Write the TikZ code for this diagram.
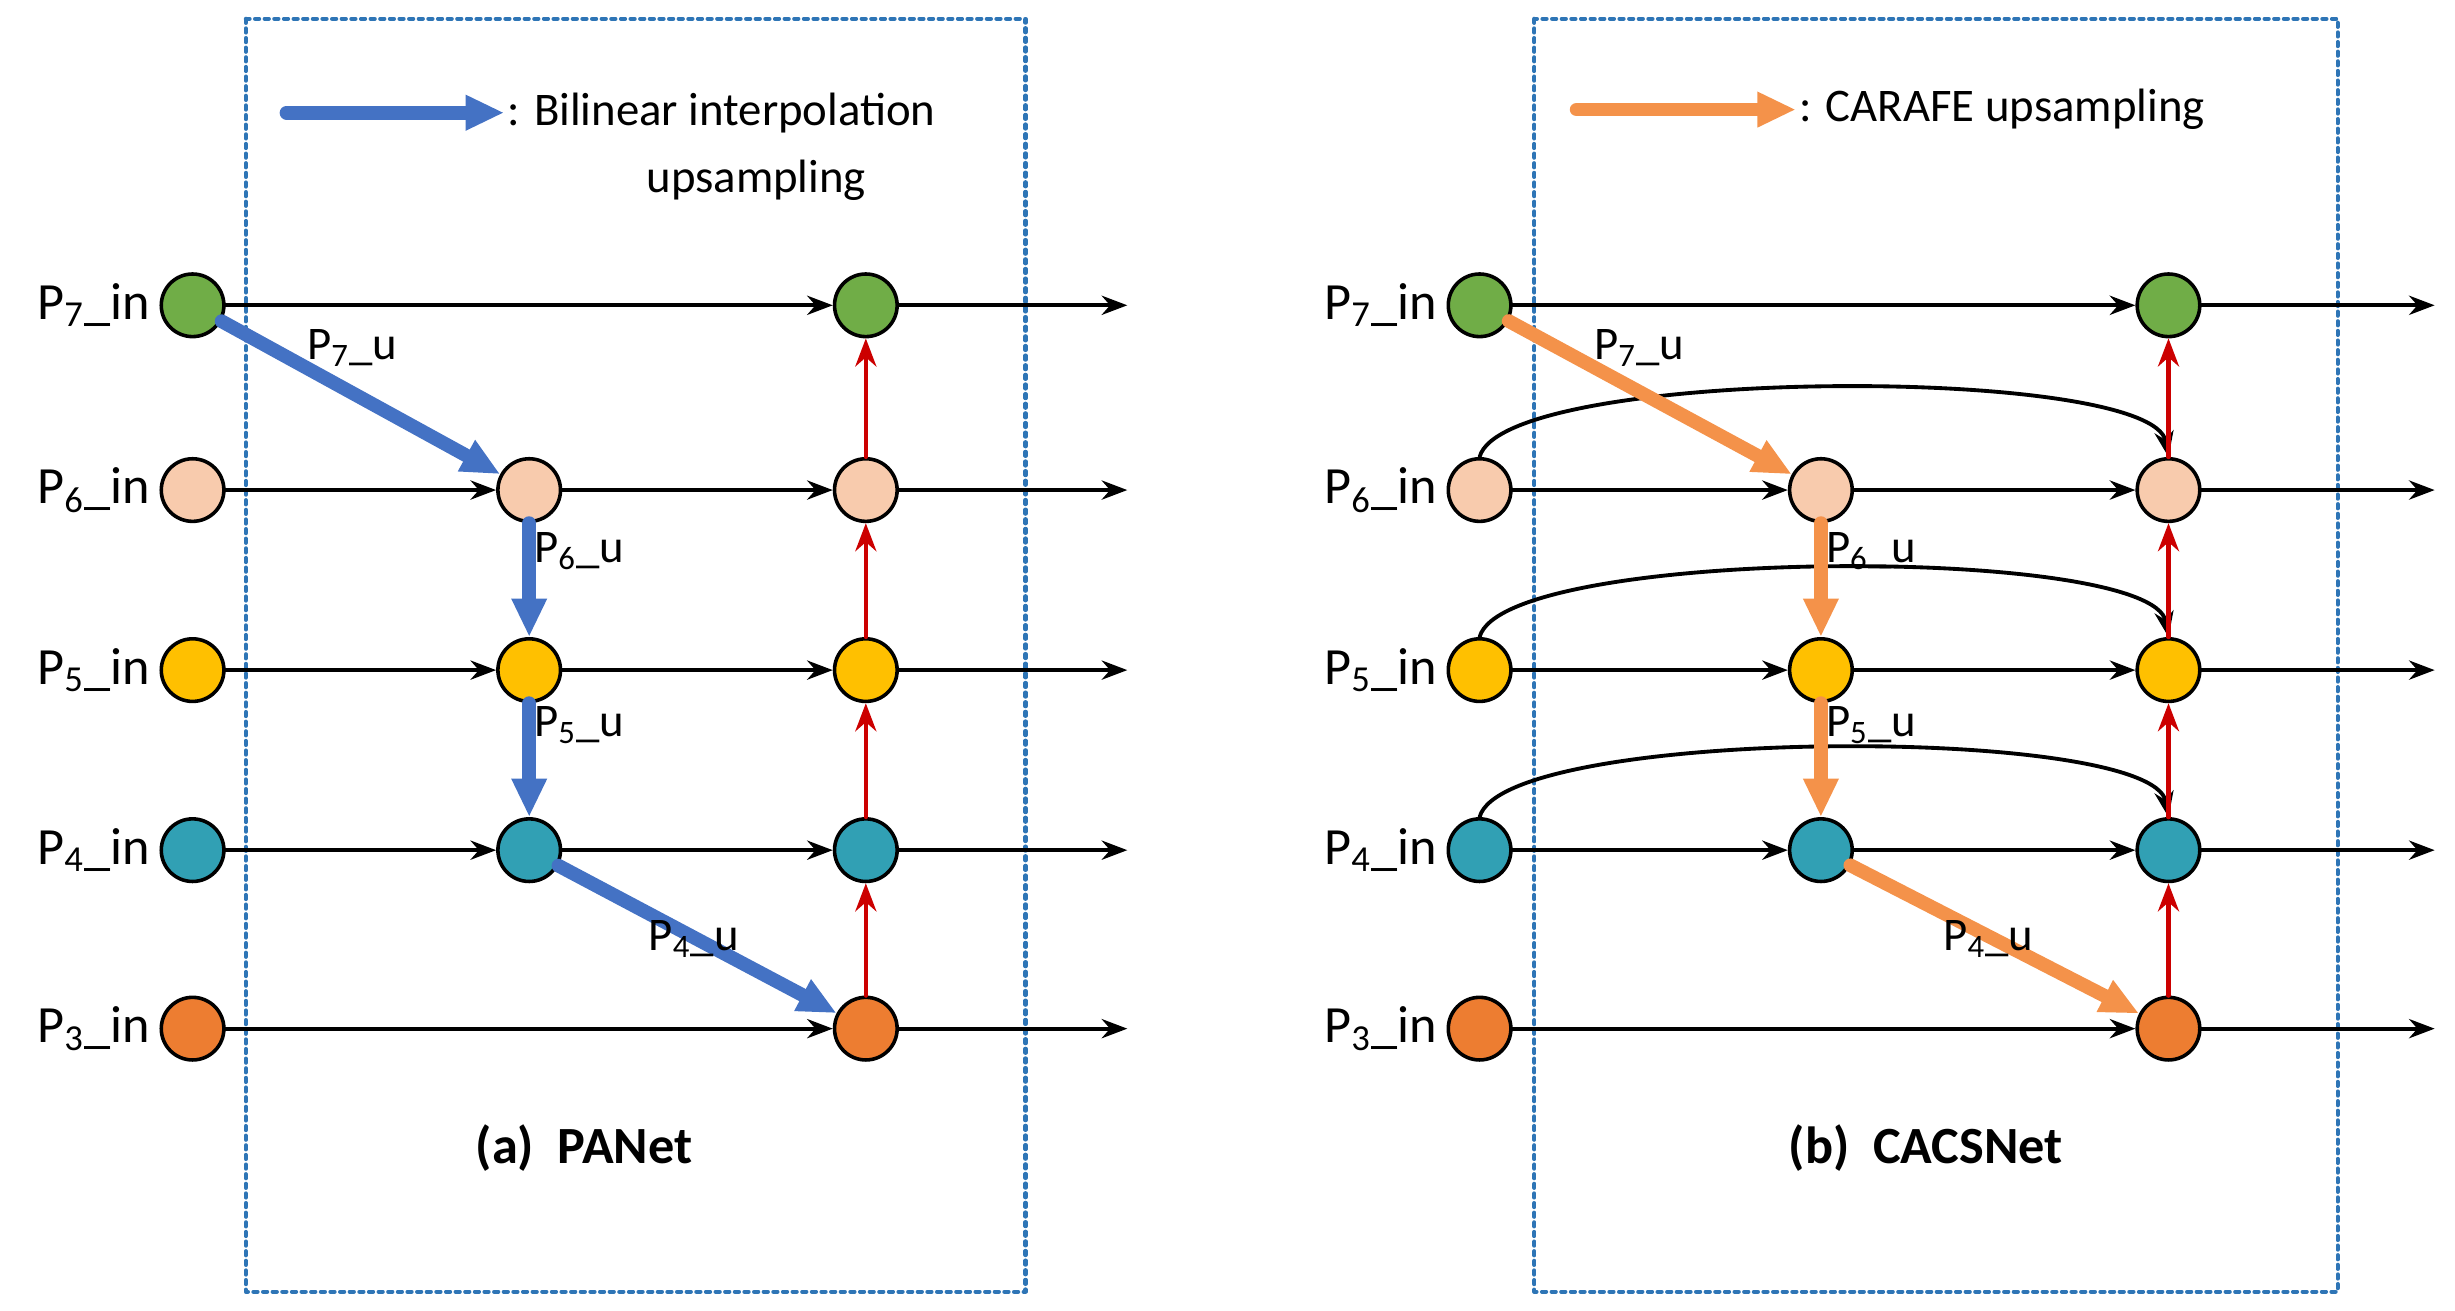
\documentclass[tikz,border=0pt]{standalone}
\usepackage{fontspec}
\setmainfont{Carlito}
\usetikzlibrary{arrows.meta}
\definecolor{cgreen}{HTML}{70AD47}
\definecolor{cpeach}{HTML}{F8CBAD}
\definecolor{cyellow}{HTML}{FFC000}
\definecolor{cteal}{HTML}{31A0B4}
\definecolor{corange}{HTML}{ED7D31}
\definecolor{cblue}{HTML}{4472C4}
\definecolor{carafe}{HTML}{F4924A}
\definecolor{cbox}{HTML}{2E75B6}
\begin{document}
\begin{tikzpicture}[x=0.02cm,y=-0.02cm,line cap=round,line join=round,>=Stealth,
  dot/.style={circle,draw,line width=1.3pt,minimum size=0.8cm,inner sep=0pt},
  link/.style={->,line width=1.4pt},
  up/.style={->,line width=1.6pt,red!80!black},
  bil/.style={-{Triangle[length=14pt,width=12pt]},line width=5pt,cblue},
  car/.style={-{Triangle[length=14pt,width=12pt]},line width=5pt,carafe},
  lbl/.style={font=\fontsize{19}{22}\selectfont},
  ulbl/.style={font=\fontsize{17}{20}\selectfont,inner sep=1pt},
  box/.style={cbox,dotted,line width=1.5pt}]
\useasboundingbox (0,0) rectangle (1568,837);

% (a) PANet
\draw[box] (157,12) rectangle (655,825);
\coordinate (al1) at (183,72);
\coordinate (al2) at (322,72);
\draw[bil] (al1) -- (al2);
\node[ulbl,anchor=west] (alt) at (322,72) {: Bilinear interpolation};
\node[ulbl] (alu) at (483,115) {upsampling};
\foreach \i/\y/\c in {7/195/cgreen,6/313/cpeach,5/428/cyellow,4/543/cteal,3/657/corange}{
  \node[dot,fill=\c] (ai\i) at (123,\y) {};
  \node[dot,fill=\c] (ao\i) at (553,\y) {};
  \node[lbl,anchor=east] (an\i) at (ai\i.west) {P\textsubscript{\i}\_in};
  \coordinate (ae\i) at (720,\y);
  \draw[link] (ao\i) -- (ae\i);
}
\foreach \i/\y/\c in {6/313/cpeach,5/428/cyellow,4/543/cteal}{
  \node[dot,fill=\c] (am\i) at (338,\y) {};
  \draw[link] (ai\i) -- (am\i);
  \draw[link] (am\i) -- (ao\i);
}
\draw[link] (ai7) -- (ao7);
\draw[link] (ai3) -- (ao3);
\foreach \a/\b in {3/4,4/5,5/6,6/7}
  \draw[up] (ao\a) -- (ao\b);
\draw[bil] (ai7) -- (am6);
\draw[bil] (am6) -- (am5);
\draw[bil] (am5) -- (am4);
\draw[bil] (am4) -- (ao3);
\node[ulbl] (au7) at (225,222) {P\textsubscript{7}\_u};
\node[ulbl] (au6) at (370,352) {P\textsubscript{6}\_u};
\node[ulbl] (au5) at (370,463) {P\textsubscript{5}\_u};
\node[ulbl] (au4) at (443,600) {P\textsubscript{4}\_u};
\node[lbl,font=\bfseries\fontsize{19}{22}\selectfont] (at) at (373,733) {(a)\ \ PANet};

% (b) CACSNet
\draw[box] (980,12) rectangle (1493,825);
\coordinate (bl1) at (1007,70);
\coordinate (bl2) at (1147,70);
\draw[car] (bl1) -- (bl2);
\node[ulbl,anchor=west] (blt) at (1147,70) {: CARAFE upsampling};
\foreach \i/\y/\c in {7/195/cgreen,6/313/cpeach,5/428/cyellow,4/543/cteal,3/657/corange}{
  \node[dot,fill=\c] (bi\i) at (945,\y) {};
  \node[dot,fill=\c] (bo\i) at (1385,\y) {};
  \node[lbl,anchor=east] (bn\i) at (bi\i.west) {P\textsubscript{\i}\_in};
  \coordinate (be\i) at (1555,\y);
  \draw[link] (bo\i) -- (be\i);
}
\foreach \i/\y/\c in {6/313/cpeach,5/428/cyellow,4/543/cteal}{
  \node[dot,fill=\c] (bm\i) at (1163,\y) {};
  \draw[link] (bi\i) -- (bm\i);
  \draw[link] (bm\i) -- (bo\i);
  \draw[link] (bi\i.north) to[out=75,in=100,looseness=0.35] (bo\i.north);
}
\draw[link] (bi7) -- (bo7);
\draw[link] (bi3) -- (bo3);
\foreach \a/\b in {3/4,4/5,5/6,6/7}
  \draw[up] (bo\a) -- (bo\b);
\draw[car] (bi7) -- (bm6);
\draw[car] (bm6) -- (bm5);
\draw[car] (bm5) -- (bm4);
\draw[car] (bm4) -- (bo3);
\node[ulbl] (bu7) at (1047,222) {P\textsubscript{7}\_u};
\node[ulbl] (bu6) at (1195,352) {P\textsubscript{6}\_u};
\node[ulbl] (bu5) at (1195,463) {P\textsubscript{5}\_u};
\node[ulbl] (bu4) at (1270,600) {P\textsubscript{4}\_u};
\node[lbl,font=\bfseries\fontsize{19}{22}\selectfont] (bt) at (1230,733) {(b)\ \ CACSNet};
\end{tikzpicture}
\end{document}
